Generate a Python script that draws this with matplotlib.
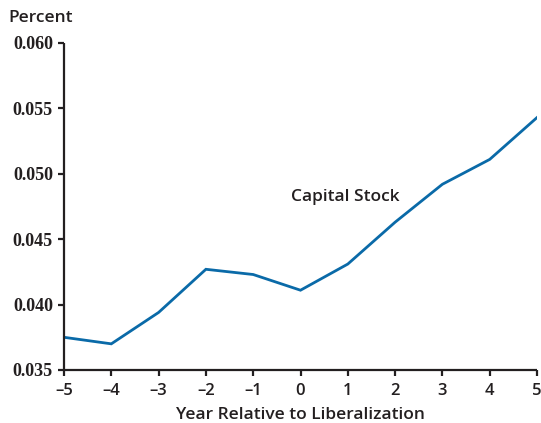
import matplotlib
matplotlib.use('Agg')
import matplotlib.pyplot as plt

years = [-5, -4, -3, -2, -1, 0, 1, 2, 3, 4, 5]
capital_stock = [0.0375, 0.0370, 0.0394, 0.0427, 0.0423, 0.0411, 0.0431, 0.0463, 0.0492, 0.0511, 0.0543]
yticks = [0.035, 0.040, 0.045, 0.050, 0.055, 0.060]
xtick_labels = ['\u20135', '\u20134', '\u20133', '\u20132', '\u20131', '0', '1', '2', '3', '4', '5']

fig = plt.figure(figsize=(5.41, 4.23), dpi=100)
ax = fig.add_axes([64/541, 53/423, 473/541, 327/423])

ax.plot(years, capital_stock, color='#0a6aa8', lw=2.0, solid_joinstyle='miter')

ax.set_xlim(-5, 5)
ax.set_ylim(0.035, 0.060)
ax.set_xticks(years)
ax.set_xticklabels(xtick_labels)
ax.set_yticks(yticks)
ax.set_yticklabels(['%.3f' % v for v in yticks])

for s in ['top', 'right']:
    ax.spines[s].set_visible(False)
for s in ['left', 'bottom']:
    ax.spines[s].set_linewidth(1.6)
    ax.spines[s].set_color('#231f20')
    ax.spines[s].set_capstyle('butt')
ax.tick_params(direction='out', length=4, width=1.6, color='#231f20')
ax.tick_params(axis='x', pad=5)
ax.tick_params(axis='y', pad=4)

dark = '#231f20'
for lab in ax.get_yticklabels():
    lab.set_family('Liberation Serif')
    lab.set_fontweight('bold')
    lab.set_fontsize(13)
    lab.set_color(dark)
for lab in ax.get_xticklabels():
    lab.set_family('Open Sans')
    lab.set_fontweight('semibold')
    lab.set_fontsize(12)
    lab.set_color(dark)

lbl = dict(family='Open Sans', fontweight='semibold', fontsize=12.5, color=dark)
ax.set_xlabel('Year Relative to Liberalization', labelpad=6, **lbl)
fig.text(8/541, 1 - 18/423, 'Percent', ha='left', va='center', **lbl)
ax.text(0.95, 0.0482, 'Capital Stock', ha='center', va='center', **lbl)

fig.savefig('out.png', dpi=100)
